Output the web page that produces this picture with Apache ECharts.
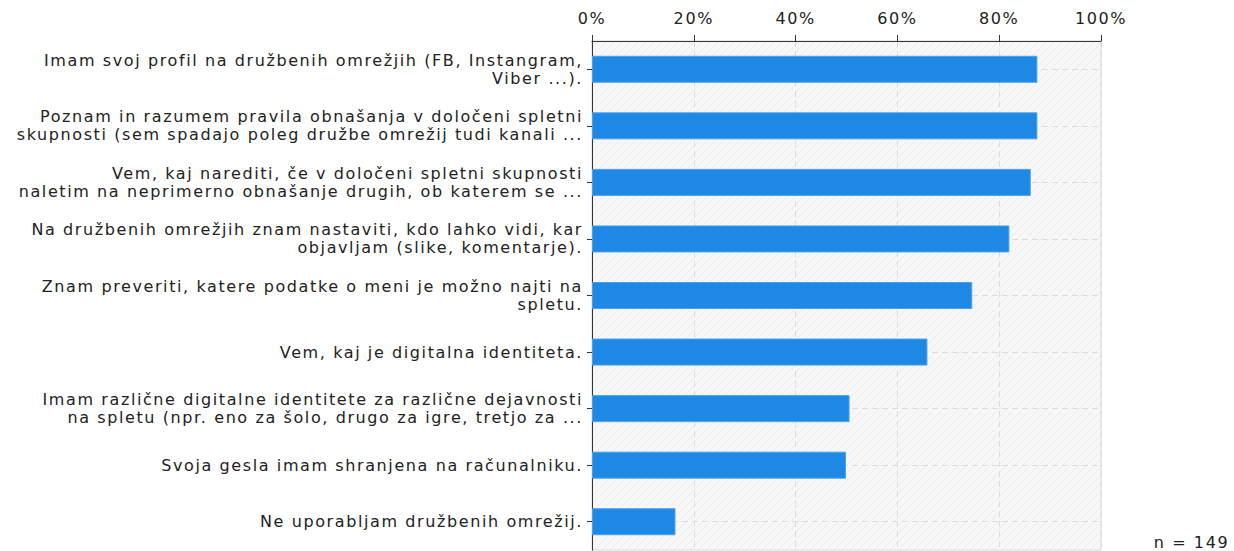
<!DOCTYPE html>
<html>
<head>
<meta charset="utf-8">
<script src="https://cdn.jsdelivr.net/npm/echarts@6/dist/echarts.min.js"></script>
<style>
html,body{margin:0;padding:0;background:#fff;}
#chart{width:1234px;height:551px;}
#chart text{letter-spacing:1.6px;}
</style>
</head>
<body>
<div id="chart"></div>
<script>
const categories = [
  'Imam svoj profil na družbenih omrežjih (FB, Instangram,\nViber ...).',
  'Poznam in razumem pravila obnašanja v določeni spletni\nskupnosti (sem spadajo poleg družbe omrežij tudi kanali ...',
  'Vem, kaj narediti, če v določeni spletni skupnosti\nnaletim na neprimerno obnašanje drugih, ob katerem se ...',
  'Na družbenih omrežjih znam nastaviti, kdo lahko vidi, kar\nobjavljam (slike, komentarje).',
  'Znam preveriti, katere podatke o meni je možno najti na\nspletu.',
  'Vem, kaj je digitalna identiteta.',
  'Imam različne digitalne identitete za različne dejavnosti\nna spletu (npr. eno za šolo, drugo za igre, tretjo za ...',
  'Svoja gesla imam shranjena na računalniku.',
  'Ne uporabljam družbenih omrežij.'
];
const values = [87.5, 87.5, 86.2, 82.0, 74.7, 65.9, 50.6, 49.9, 16.4];
const xTicks = [0, 20, 40, 60, 80, 100];
const nLabel = 'n = 149';

const FONT = 'DejaVu Sans';

// hatch pattern
const pc = document.createElement('canvas');
pc.width = 8; pc.height = 8;
const pctx = pc.getContext('2d');
pctx.fillStyle = '#f7f7f7';
pctx.fillRect(0,0,8,8);
pctx.strokeStyle = '#eaeaea';
pctx.lineWidth = 1;
pctx.beginPath();
pctx.moveTo(0,8); pctx.lineTo(8,0);
pctx.moveTo(-4,4); pctx.lineTo(4,-4);
pctx.moveTo(4,12); pctx.lineTo(12,4);
pctx.stroke();

const chart = echarts.init(document.getElementById('chart'), null, {renderer:'svg'});
chart.setOption({
  animation: false,
  grid: {
    left: 592, right: 133, top: 41, bottom: 1,
    show: true,
    backgroundColor: {image: pc.toDataURL(), repeat: 'repeat', imageWidth: 8, imageHeight: 8},
    borderColor: '#d9d9d9', borderWidth: 1
  },
  xAxis: {
    type: 'value', position: 'top', min: 0, max: 100, interval: 20,
    axisLine: {show: true, lineStyle: {color: '#333', width: 1}},
    axisTick: {show: true, length: 6, lineStyle: {color: '#333'}},
    axisLabel: {formatter: '{value}%', color: '#222', fontFamily: FONT, fontSize: 16, margin: 15},
    splitLine: {show: true, lineStyle: {color: '#dcdcdc', type: [6, 4], width: 1}}
  },
  yAxis: {
    type: 'category', inverse: true, data: categories,
    axisLine: {show: true, lineStyle: {color: '#333', width: 1}},
    axisTick: {show: true, alignWithLabel: true, length: 5, lineStyle: {color: '#333'}},
    axisLabel: {color: '#222', fontFamily: FONT, fontSize: 16, lineHeight: 18, margin: 9, align: 'right', padding: [0, 0, 3, 0]},
    splitLine: {show: true, alignWithLabel: true, lineStyle: {color: '#dcdcdc', type: [6, 4], width: 1}}
  },
  series: [{
    type: 'bar', data: values, barWidth: 27,
    itemStyle: {color: '#1e88e5', borderColor: '#4aa0ec', borderWidth: 1}
  }],
  graphic: [{
    type: 'text', right: 16, bottom: 1,
    style: {text: nLabel, fontFamily: FONT, fontSize: 16, fill: '#222'}
  }]
});
</script>
</body>
</html>
